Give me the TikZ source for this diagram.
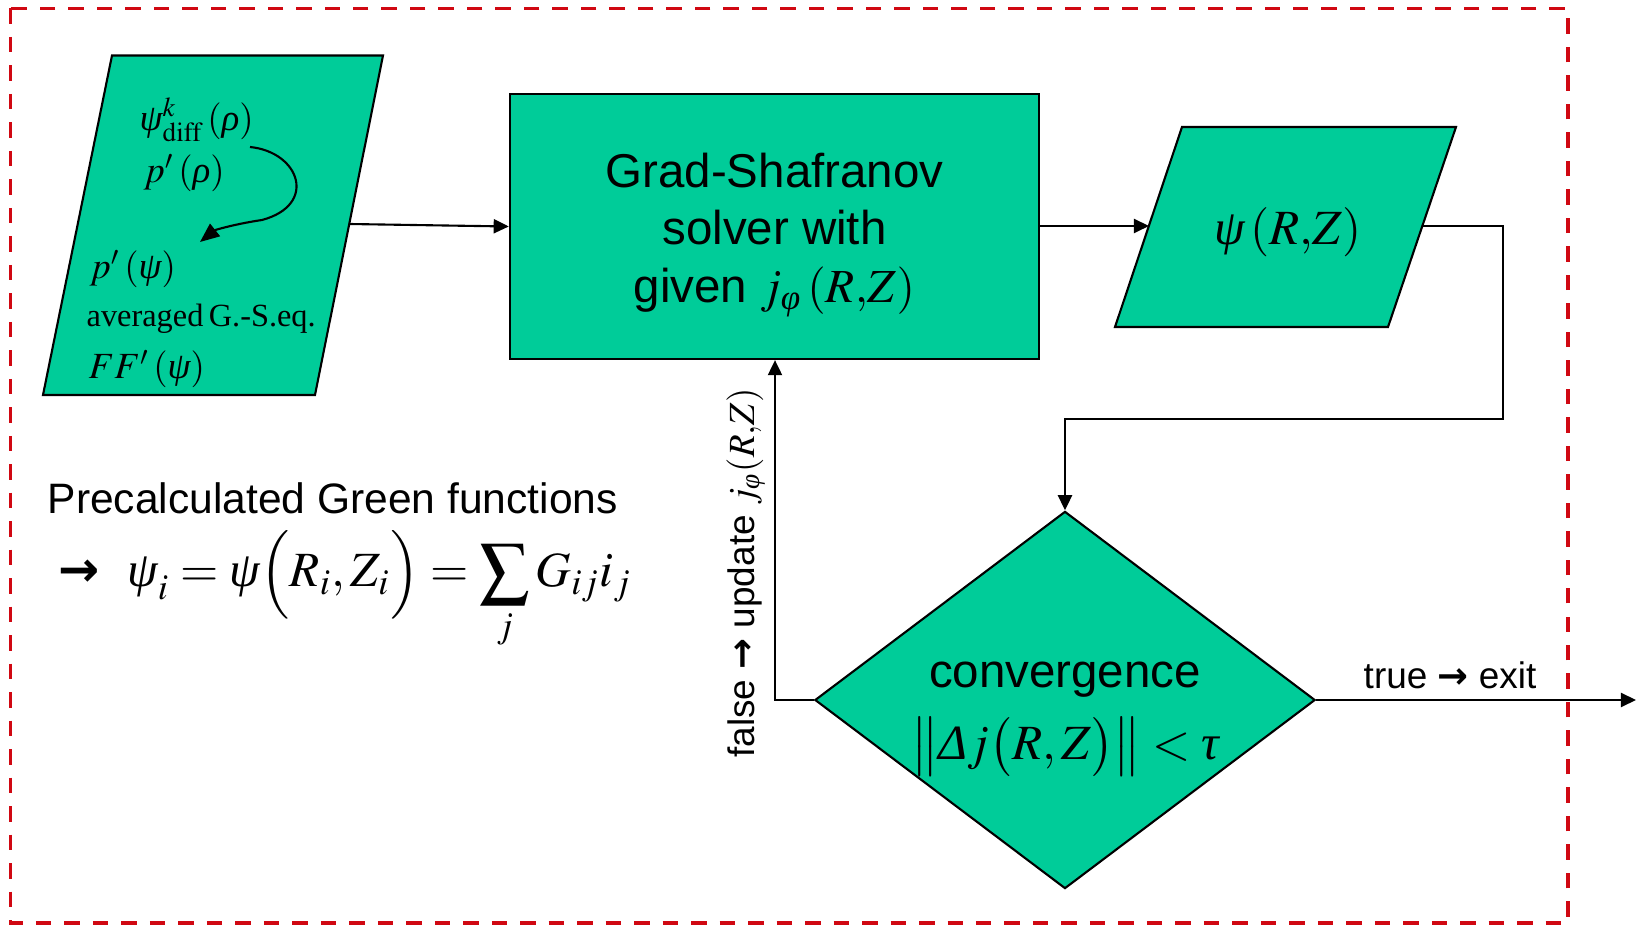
\documentclass[tikz,border=0pt]{standalone}
\usepackage{mathptmx}
\usepackage{amsmath}
\usepackage[no-math]{fontspec}
\setmainfont{Liberation Sans}
\newfontfamily\tnr{Liberation Serif}
\newfontfamily\arrowfont{DejaVu Sans}
\usetikzlibrary{arrows.meta,shapes.geometric}
\definecolor{flowgreen}{RGB}{0,204,153}
\definecolor{framered}{RGB}{208,8,18}
% italic serif Greek letters for the formulas
\newcommand\gk[1]{\text{\tnr\itshape #1}}
\newcommand\thickarrow{{\arrowfont\bfseries →}}
\tikzset{
  box/.style={draw=black, fill=flowgreen, line width=0.6pt},
  link/.style={line width=0.6pt, -{Triangle[length=4.3pt,width=4pt]}},
  txt/.style={inner sep=0pt},
  big/.style={font=\fontsize{13.5}{16.4}\selectfont},
  small/.style={font=\fontsize{10.5}{12.5}\selectfont},
}
\begin{document}
\begin{tikzpicture}[x=0.01cm,y=-0.01cm]
\useasboundingbox (0,0) rectangle (1642,925);

% dashed outer frame
\draw[framered, line width=1pt, dash pattern=on 4.4pt off 3.7pt] (10.5,8.5) rectangle (1568,923);

% input parallelogram
\coordinate (inTL) at (112,55.5);
\coordinate (inTR) at (383,55.5);
\coordinate (inBR) at (315,395);
\coordinate (inBL) at (43,395);
\coordinate (inOut) at (349,224);
\draw[box] (inTL) -- (inTR) -- (inBR) -- (inBL) -- cycle;

\node[txt, small, anchor=west] (psidiff) at (139,120) {$\gk{ψ}^{k}_{\mathrm{diff}}\left(\gk{ρ}\right)$};
\node[txt, small, anchor=west] (prho) at (143,173) {$p'\left(\gk{ρ}\right)$};
\node[txt, small, anchor=west] (ppsi) at (89,269) {$p'\left(\gk{ψ}\right)$};
\node[txt, anchor=west, font=\fontsize{9.2}{11}\tnr] (avg) at (86,319) {averaged\,G.-S.eq.};
\node[txt, small, anchor=west] (ffpsi) at (88,369) {$FF'\left(\gk{ψ}\right)$};
\coordinate (curlA) at (250,147);
\coordinate (curlB) at (262,220);
\coordinate (curlC) at (200,242);
\draw[line width=0.6pt, -{Triangle[length=5.5pt,width=4.5pt]}]
  (curlA) .. controls (300,152) and (318,205) .. (curlB)
          .. controls (235,224) and (215,230) .. (curlC);

% solver box
\node[box, minimum width=5.29cm, minimum height=2.65cm] (gs) at (774.5,226.5) {};
\node[txt, align=center, big] (gstxt) at (774.5,235)
  {Grad-Shafranov\\solver with\\given $j_{\gk{φ}}\,(R{,}Z)$};

% output parallelogram
\coordinate (outTL) at (1182,127);
\coordinate (outTR) at (1456,127);
\coordinate (outBR) at (1388,327);
\coordinate (outBL) at (1115,327);
\coordinate (outIn) at (1149,226);
\coordinate (outOut) at (1422,226);
\draw[box] (outTL) -- (outTR) -- (outBR) -- (outBL) -- cycle;
\node[txt, font=\fontsize{14}{16}\selectfont] (psiRZ) at (1288,232) {$\gk{ψ}\,(R{,}Z)$};

% convergence test
\node[box, diamond, minimum width=5cm, minimum height=3.77cm, inner sep=0pt] (conv) at (1065,700) {};
\node[txt, big, anchor=base] (convtxt) at (1065,688) {convergence};
\node[txt, font=\fontsize{14}{16}\selectfont] (convmath) at (1065,747)
  {$\big\|\gk{Δ}j\big(R,Z\big)\big\|<\gk{τ}$};

% Green functions note
\node[txt, anchor=base west, font=\fontsize{12.1}{14}\selectfont] (green) at (47,514) {Precalculated Green functions};
\node[txt, anchor=base west, font=\fontsize{14}{17}\selectfont] (greenf) at (58,587)
  {\thickarrow\;\;$\gk{ψ}_i=\gk{ψ}\Big(R_i,Z_i\Big)=\displaystyle\sum_j G_{ij}i_j$};

% connectors
\draw[link] (inOut) -- (gs.west);
\draw[link] (gs.east |- outIn) -- (outIn);
\coordinate (fbA) at (1503,226);
\coordinate (fbB) at (1503,419);
\coordinate (fbC) at (1065,419);
\draw[link] (outOut) -- (fbA) -- (fbB) -- (fbC) -- (conv.north);
\coordinate (exitEnd) at (1636,700);
\draw[link] (conv.east) -- (exitEnd);
\node[txt, small] (truelbl) at (1450,675) {true \thickarrow{} exit};
\coordinate (falseCorner) at (775,700);
\draw[link] (conv.west) -- (falseCorner) -- (gs.south -| falseCorner);
\node[txt, small, rotate=90] (falselbl) at (746,573) {false \thickarrow{} update $j_{\gk{φ}}(R{,}Z)$};
\end{tikzpicture}
\end{document}
